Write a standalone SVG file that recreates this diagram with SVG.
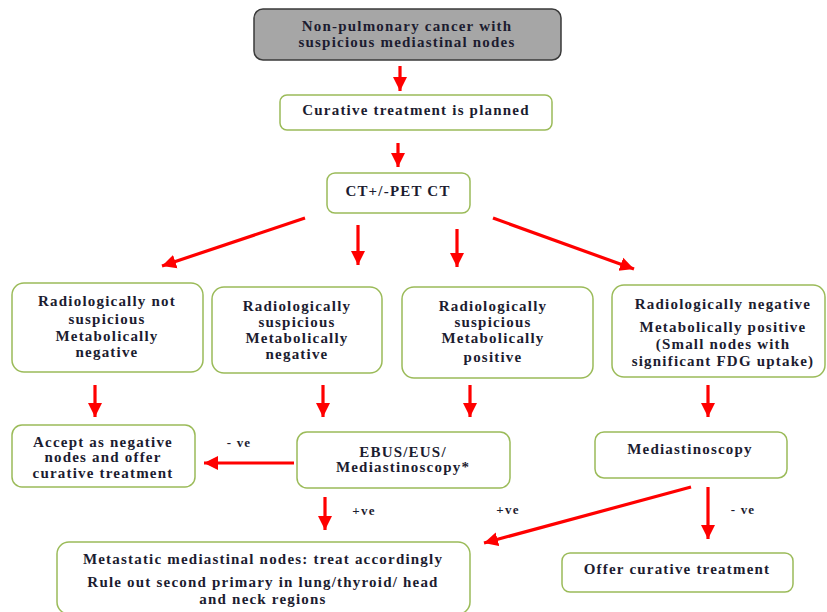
<svg xmlns="http://www.w3.org/2000/svg" width="827" height="612" viewBox="0 0 827 612">
<defs>
<style>
.box{fill:#ffffff;stroke:#9bbb59;stroke-width:1.5}
.top{fill:#a6a6a6;stroke:#3a3a3a;stroke-width:1.5}
text{font-family:"Liberation Serif","Times New Roman",serif;font-weight:bold;font-size:15px;fill:#1c1c30;text-anchor:middle;letter-spacing:1.2px}
.lbl{font-size:13px}
.arr{stroke:#ff0000;stroke-width:3.2;fill:none;marker-end:url(#ah)}
</style>
<marker id="ah" markerUnits="userSpaceOnUse" markerWidth="16" markerHeight="16" viewBox="0 0 16 16" refX="14" refY="8" orient="auto">
<path d="M0,1 L14,8 L0,15 Z" fill="#ff0000"/>
</marker>
</defs>
<rect width="827" height="612" fill="#ffffff"/>
<g id="connectors">
<line class="arr" x1="400" y1="66" x2="400" y2="91"/>
<line class="arr" x1="398" y1="143" x2="398" y2="167"/>
<line class="arr" x1="305" y1="218" x2="162" y2="266"/>
<line class="arr" x1="358" y1="225" x2="358" y2="265"/>
<line class="arr" x1="457" y1="229" x2="457" y2="267"/>
<line class="arr" x1="493" y1="218" x2="634" y2="269"/>
<line class="arr" x1="95" y1="385" x2="95" y2="417"/>
<line class="arr" x1="323" y1="385" x2="323" y2="417"/>
<line class="arr" x1="470" y1="385" x2="470" y2="417"/>
<line class="arr" x1="708" y1="385" x2="708" y2="417"/>
<line class="arr" x1="294" y1="463" x2="204" y2="463"/>
<line class="arr" x1="325" y1="497" x2="325" y2="530"/>
<line class="arr" x1="691" y1="487" x2="484" y2="543"/>
<line class="arr" x1="708" y1="487" x2="708" y2="539"/>
<text class="lbl" x="239" y="447">- ve</text>
<text class="lbl" x="364" y="515">+ve</text>
<text class="lbl" x="508" y="514">+ve</text>
<text class="lbl" x="743" y="514">- ve</text>
</g>
<g id="n1">
<rect class="top" x="254" y="9" width="307" height="51" rx="9"/>
<text x="407" y="31">Non-pulmonary cancer with</text>
<text x="407" y="47">suspicious mediastinal nodes</text>
</g>
<g id="n2">
<rect class="box" x="280" y="95" width="272" height="35" rx="7"/>
<text x="416" y="115">Curative treatment is planned</text>
</g>
<g id="n3">
<rect class="box" x="327" y="173" width="143" height="40" rx="8"/>
<text x="398" y="196">CT+/-PET  CT</text>
</g>
<g id="n4">
<rect class="box" x="12" y="283" width="191" height="89" rx="12"/>
<text x="107" y="306">Radiologically not</text>
<text x="107" y="324">suspicious</text>
<text x="107" y="341">Metabolically</text>
<text x="107" y="357">negative</text>
</g>
<g id="n5">
<rect class="box" x="212" y="287" width="170" height="86" rx="12"/>
<text x="297" y="311">Radiologically</text>
<text x="297" y="327">suspicious</text>
<text x="297" y="343">Metabolically</text>
<text x="297" y="359">negative</text>
</g>
<g id="n6">
<rect class="box" x="402" y="287" width="191" height="91" rx="12"/>
<text x="493" y="311">Radiologically</text>
<text x="493" y="327">suspicious</text>
<text x="493" y="343">Metabolically</text>
<text x="493" y="362">positive</text>
</g>
<g id="n7">
<rect class="box" x="612" y="285" width="213" height="92" rx="12"/>
<text x="723" y="309">Radiologically negative</text>
<text x="723" y="332">Metabolically positive</text>
<text x="723" y="349">(Small nodes with</text>
<text x="723" y="366">significant FDG uptake)</text>
</g>
<g id="n8">
<rect class="box" x="12" y="425" width="183" height="62" rx="10"/>
<text x="103" y="447">Accept as negative</text>
<text x="103" y="462">nodes and offer</text>
<text x="103" y="478">curative treatment</text>
</g>
<g id="n9">
<rect class="box" x="297" y="432" width="213" height="56" rx="10"/>
<text x="403" y="457">EBUS/EUS/</text>
<text x="403" y="472">Mediastinoscopy*</text>
</g>
<g id="n10">
<rect class="box" x="595" y="432" width="192" height="46" rx="9"/>
<text x="690" y="454">Mediastinoscopy</text>
</g>
<g id="n11">
<rect class="box" x="57" y="542" width="413" height="72" rx="12"/>
<text x="263" y="564">Metastatic mediastinal nodes: treat accordingly</text>
<text x="263" y="587">Rule out second primary in lung/thyroid/ head</text>
<text x="263" y="604">and neck regions</text>
</g>
<g id="n12">
<rect class="box" x="562" y="553" width="231" height="39" rx="8"/>
<text x="677" y="574">Offer curative treatment</text>
</g>
</svg>
